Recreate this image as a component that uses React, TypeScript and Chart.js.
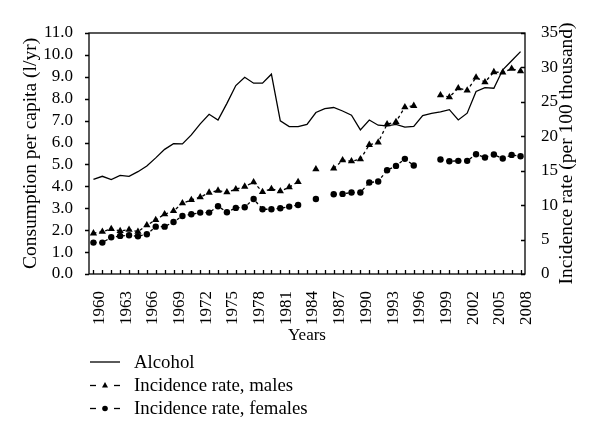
import React, { useEffect, useRef } from "react";
import { Chart, registerables } from "chart.js";

Chart.register(...registerables);

const FONT = '"Liberation Serif", "Times New Roman", serif';

const years = [
  "1960", "1961", "1962", "1963", "1964", "1965", "1966", "1967", "1968", "1969",
  "1970", "1971", "1972", "1973", "1974", "1975", "1976", "1977", "1978", "1979",
  "1980", "1981", "1982", "1983", "1984", "1985", "1986", "1987", "1988", "1989",
  "1990", "1991", "1992", "1993", "1994", "1995", "1996", "1997", "1998", "1999",
  "2000", "2001", "2002", "2003", "2004", "2005", "2006", "2007", "2008",
];

const alcohol = [
  4.32, 4.46, 4.31, 4.5, 4.46, 4.67, 4.93, 5.3, 5.69, 5.95,
  5.94, 6.35, 6.85, 7.29, 7.03, 7.79, 8.6, 8.98, 8.71, 8.71,
  9.12, 6.99, 6.73, 6.73, 6.83, 7.37, 7.55, 7.6, 7.44, 7.25,
  6.58, 7.03, 6.79, 6.76, 6.83, 6.7, 6.74, 7.23, 7.33, 7.4,
  7.5, 7.03, 7.34, 8.33, 8.51, 8.48, 9.32, 9.73, 10.15,
];

const males = [
  5.91, 6.16, 6.54, 6.25, 6.45, 6.16, 7.08, 7.85, 8.68, 9.16,
  10.28, 10.76, 11.15, 11.83, 12.12, 11.88, 12.31, 12.7, 13.33, 11.92,
  12.36, 12.02, 12.6, 13.38, null, 15.22, null, 15.32, 16.53, 16.38,
  16.67, 18.76, 19.1, 21.76, 22.1, 24.24, 24.43, null, null, 25.98,
  25.69, 27.0, 26.66, 28.55, 27.87, 29.33, 29.28, 29.81, 29.47,
];

const females = [
  4.56, 4.56, 5.33, 5.53, 5.62, 5.48, 5.77, 6.88, 6.88, 7.56,
  8.43, 8.68, 8.92, 8.92, 9.84, 8.97, 9.6, 9.69, 10.9, 9.4,
  9.4, 9.55, 9.79, 10.03, null, 10.9, null, 11.58, 11.63, 11.83,
  11.83, 13.28, 13.43, 15.07, 15.7, 16.72, 15.75, null, null, 16.63,
  16.38, 16.43, 16.43, 17.4, 16.92, 17.35, 16.77, 17.3, 17.11,
];

const leftTitle = "Consumption per capita (l/yr)";
const rightTitle = "Incidence rate (per 100 thousand)";
const xTitle = "Years";
const legendLabels = ["Alcohol", "Incidence rate, males", "Incidence rate, females"];

const framePlugin = {
  id: "frame",
  afterDraw(chart: any) {
    const { ctx, chartArea: a, scales } = chart;
    ctx.save();
    ctx.strokeStyle = "#000";
    ctx.lineWidth = 1.3;
    ctx.strokeRect(a.left, a.top, a.right - a.left, a.bottom - a.top);
    ctx.beginPath();
    scales.y.ticks.forEach((_t: any, i: number) => {
      const py = Math.round(scales.y.getPixelForTick(i)) + 0.5;
      ctx.moveTo(a.left - 4, py);
      ctx.lineTo(a.left, py);
    });
    scales.y1.ticks.forEach((_t: any, i: number) => {
      const py = Math.round(scales.y1.getPixelForTick(i)) + 0.5;
      ctx.moveTo(a.right - 4, py);
      ctx.lineTo(a.right, py);
    });
    scales.x.ticks.forEach((_t: any, i: number) => {
      const px = Math.round(scales.x.getPixelForTick(i)) + 0.5;
      ctx.moveTo(px, a.bottom);
      ctx.lineTo(px, a.bottom - 4);
    });
    ctx.stroke();
    // right axis title, reading bottom to top
    ctx.translate(567, (a.top + a.bottom) / 2);
    ctx.rotate(-Math.PI / 2);
    ctx.fillStyle = "#000";
    ctx.font = `19.5px ${FONT}`;
    ctx.textAlign = "center";
    ctx.textBaseline = "middle";
    ctx.fillText(rightTitle, 0, 0);
    ctx.restore();
  },
};

function LegendSymbol({ kind }: { kind: "line" | "tri" | "dot" }) {
  return (
    <svg width={30} height={12} style={{ display: "block", marginRight: 14 }}>
      {kind === "line" ? (
        <line x1={0} y1={6} x2={30} y2={6} stroke="#000" strokeWidth={1.3} />
      ) : (
        <>
          <line x1={0} y1={6.5} x2={6} y2={6.5} stroke="#000" strokeWidth={1.3} />
          <line x1={24} y1={6.5} x2={30} y2={6.5} stroke="#000" strokeWidth={1.3} />
          {kind === "tri" ? (
            <polygon points="15,3 18,8.5 12,8.5" fill="#000" />
          ) : (
            <circle cx={15} cy={6.5} r={2.8} fill="#000" />
          )}
        </>
      )}
    </svg>
  );
}

export default function App() {
  const ref = useRef<HTMLCanvasElement>(null);

  useEffect(() => {
    if (!ref.current) return;
    const chart = new Chart(ref.current, {
      type: "line",
      data: {
        labels: years,
        datasets: [
          {
            label: legendLabels[0],
            data: alcohol,
            yAxisID: "y",
            borderColor: "#000",
            borderWidth: 1.3,
            pointRadius: 0,
            tension: 0,
          },
          {
            label: legendLabels[1],
            data: males,
            yAxisID: "y1",
            borderColor: "#000",
            backgroundColor: "#000",
            borderWidth: 1.3,
            borderDash: [3, 3],
            pointStyle: "triangle",
            pointRadius: 4.2,
            pointBorderWidth: 0,
            spanGaps: false,
          },
          {
            label: legendLabels[2],
            data: females,
            yAxisID: "y1",
            borderColor: "#000",
            backgroundColor: "#000",
            borderWidth: 1.3,
            borderDash: [3, 3],
            pointStyle: "circle",
            pointRadius: 3.2,
            pointBorderWidth: 0,
            spanGaps: false,
          },
        ],
      },
      options: {
        responsive: false,
        animation: false,
        layout: { padding: { top: 33, left: 0, right: 0, bottom: 0 } },
        plugins: { legend: { display: false }, tooltip: { enabled: false } },
        scales: {
          x: {
            type: "category",
            offset: true,
            grid: { display: false },
            border: { display: false },
            ticks: {
              autoSkip: false,
              minRotation: 90,
              maxRotation: 90,
              padding: 9,
              labelOffset: 6,
              color: "#000",
              font: { family: FONT, size: 17 },
              callback: function (this: any, v: any, i: number) {
                return i % 3 === 0 ? this.getLabelForValue(v) : "";
              },
            },
            title: {
              display: true,
              text: xTitle,
              color: "#000",
              font: { family: FONT, size: 17 },
              padding: { top: 0, bottom: 94.8 },
            },
            afterFit: (s: any) => {
              s.height = 167;
            },
          },
          y: {
            type: "linear",
            position: "left",
            min: 0,
            max: 11,
            grid: { display: false },
            border: { display: false },
            ticks: {
              stepSize: 1,
              autoSkip: false,
              padding: 8,
              color: "#000",
              font: { family: FONT, size: 17 },
              callback: (v: any) => Number(v).toFixed(1),
            },
            title: {
              display: true,
              text: leftTitle,
              color: "#000",
              font: { family: FONT, size: 19.5 },
              padding: { top: 19.3, bottom: 0 },
            },
            afterFit: (s: any) => {
              s.width = 89;
            },
          },
          y1: {
            type: "linear",
            position: "right",
            min: 0,
            max: 35,
            grid: { display: false },
            border: { display: false },
            ticks: {
              stepSize: 5,
              autoSkip: false,
              padding: 8,
              color: "#000",
              font: { family: FONT, size: 17 },
            },
            afterFit: (s: any) => {
              s.width = 75;
            },
          },
        },
      },
      plugins: [framePlugin],
    });
    return () => chart.destroy();
  }, []);

  const kinds: ("line" | "tri" | "dot")[] = ["line", "tri", "dot"];

  return (
    <div
      style={{
        position: "fixed",
        left: 0,
        top: 0,
        width: 600,
        height: 441,
        background: "#fff",
      }}
    >
      <canvas ref={ref} width={600} height={441} style={{ display: "block" }} />
      <div
        style={{
          position: "absolute",
          left: 90,
          top: 350.5,
          fontFamily: FONT,
          fontSize: 18.8,
          color: "#000",
        }}
      >
        {legendLabels.map((t, i) => (
          <div
            key={t}
            style={{ display: "flex", alignItems: "center", height: 23, whiteSpace: "nowrap" }}
          >
            <LegendSymbol kind={kinds[i]} />
            <span>{t}</span>
          </div>
        ))}
      </div>
    </div>
  );
}
